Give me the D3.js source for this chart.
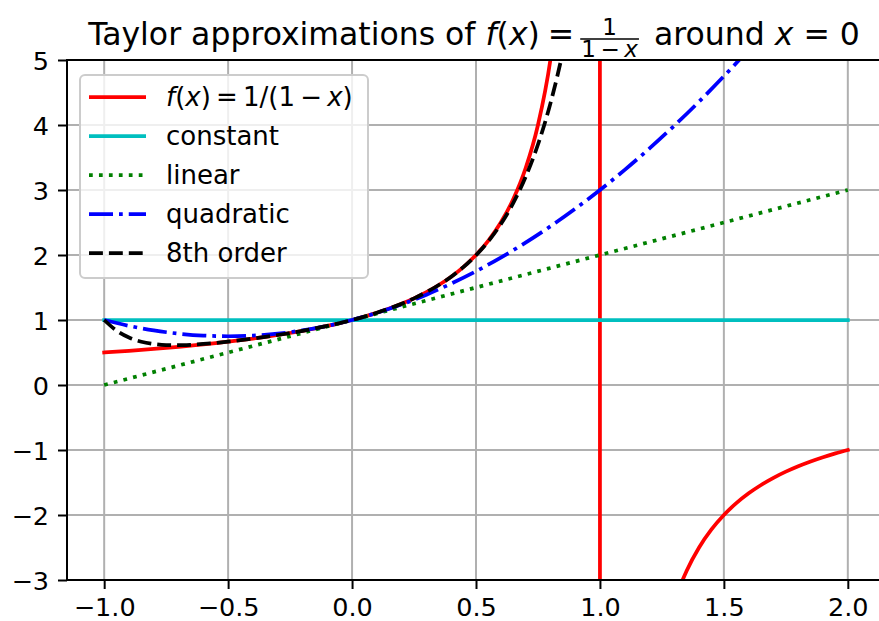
<!DOCTYPE html>
<html>
<head>
<meta charset="utf-8">
<script src="https://cdn.jsdelivr.net/npm/d3@7"></script>
<style>
	body { margin: 0; background: #fff; }
	svg { display: block; font-family: "DejaVu Sans", sans-serif; }
	text { white-space: pre; }
</style>
</head>
<body>
<script>
// values
const fX = [-1.00, -0.95, -0.90, -0.85, -0.80, -0.75, -0.70, -0.65, -0.60, -0.55, -0.50, -0.45, -0.40, -0.35, -0.30, -0.25, -0.20, -0.15, -0.10, -0.05,
	0.00, 0.05, 0.10, 0.15, 0.20, 0.25, 0.30, 0.35, 0.40, 0.45, 0.50, 0.55, 0.60, 0.65, 0.70, 0.75, 0.80, 0.85, 0.90, 0.95, 0.995,
	1.005, 1.05, 1.10, 1.15, 1.20, 1.25, 1.30, 1.35, 1.40, 1.45, 1.50, 1.55, 1.60, 1.65, 1.70, 1.75, 1.80, 1.85, 1.90, 1.95, 2.00];
const fY = [0.5, 0.5128, 0.5263, 0.5405, 0.5556, 0.5714, 0.5882, 0.6061, 0.625, 0.6452, 0.6667, 0.6897, 0.7143, 0.7407, 0.7692, 0.8, 0.8333, 0.8696, 0.9091, 0.9524,
	1, 1.0526, 1.1111, 1.1765, 1.25, 1.3333, 1.4286, 1.5385, 1.6667, 1.8182, 2, 2.2222, 2.5, 2.8571, 3.3333, 4, 5, 6.6667, 10, 20, 200,
	-200, -20, -10, -6.6667, -5, -4, -3.3333, -2.8571, -2.5, -2.2222, -2, -1.8182, -1.6667, -1.5385, -1.4286, -1.3333, -1.25, -1.1765, -1.1111, -1.0526, -1];

const constX = [-1, 2];
const constY = [1, 1];

const linX = [-1, 2];
const linY = [0, 3];

const quadX = [-1.0, -0.9, -0.8, -0.7, -0.6, -0.5, -0.4, -0.3, -0.2, -0.1, 0.0, 0.1, 0.2, 0.3, 0.4, 0.5,
	0.6, 0.7, 0.8, 0.9, 1.0, 1.1, 1.2, 1.3, 1.4, 1.5, 1.6, 1.7, 1.8, 1.9, 2.0];
const quadY = [1, 0.91, 0.84, 0.79, 0.76, 0.75, 0.76, 0.79, 0.84, 0.91, 1, 1.11, 1.24, 1.39, 1.56, 1.75,
	1.96, 2.19, 2.44, 2.71, 3, 3.31, 3.64, 3.99, 4.36, 4.75, 5.16, 5.59, 6.04, 6.51, 7];

const t8X = [-1.00, -0.95, -0.90, -0.85, -0.80, -0.75, -0.70, -0.65, -0.60, -0.55, -0.50, -0.45, -0.40, -0.35, -0.30, -0.25, -0.20, -0.15, -0.10, -0.05,
	0.00, 0.05, 0.10, 0.15, 0.20, 0.25, 0.30, 0.35, 0.40, 0.45, 0.50, 0.55, 0.60, 0.65, 0.70, 0.75, 0.80, 0.85, 0.90, 0.95, 1.00, 1.10];
const t8Y = [1, 0.836, 0.7302, 0.6657, 0.6301, 0.6143, 0.612, 0.6186, 0.6313, 0.6481, 0.668, 0.6902, 0.7145, 0.7408, 0.7693, 0.8, 0.8333, 0.8696, 0.9091, 0.9524,
	1, 1.0526, 1.1111, 1.1765, 1.25, 1.3333, 1.4285, 1.5383, 1.6662, 1.8168, 1.9961, 2.212, 2.4748, 2.798, 3.1988, 3.6997, 4.3289, 5.1225, 6.1258, 7.395, 9, 13.579];

const xTicks = [-1, -0.5, 0, 0.5, 1, 1.5, 2];
const yTicks = [-3, -2, -1, 0, 1, 2, 3, 4, 5];

const series = [
	{ x: fX, y: fY, color: '#ff0000', dash: null },
	{ x: constX, y: constY, color: '#00bfbf', dash: null },
	{ x: linX, y: linY, color: '#008000', dash: '3.75,6.2' },
	{ x: quadX, y: quadY, color: '#0000ff', dash: '24,6,3.75,6' },
	{ x: t8X, y: t8Y, color: '#000000', dash: '13.9,6' }
];
const legendLabels = ['f(x)', 'constant', 'linear', 'quadratic', '8th order'];

const W = 879, H = 621;
const mLeft = 67, mRight = 885, mTop = 60, mBottom = 580;
const lw = 3.75;

const svg = d3.select('body').append('svg')
	.attr('width', W)
	.attr('height', H);

const x = d3.scaleLinear().domain([-1.15, 2.15]).range([mLeft, mRight]);
const y = d3.scaleLinear().domain([-3, 5]).range([mBottom, mTop]);

svg.append('clipPath').attr('id', 'clip')
	.append('rect')
	.attr('x', mLeft).attr('y', mTop)
	.attr('width', mRight - mLeft).attr('height', mBottom - mTop);

// grid
const grid = svg.append('g');
grid.selectAll('.gx').data(xTicks).enter().append('line')
	.attr('x1', d => x(d)).attr('x2', d => x(d))
	.attr('y1', mTop).attr('y2', mBottom)
	.attr('stroke', '#b0b0b0').attr('stroke-width', 2);
grid.selectAll('.gy').data(yTicks).enter().append('line')
	.attr('x1', mLeft).attr('x2', mRight)
	.attr('y1', d => y(d)).attr('y2', d => y(d))
	.attr('stroke', '#b0b0b0').attr('stroke-width', 2);

// curves
const plot = svg.append('g').attr('clip-path', 'url(#clip)');
series.forEach(function (s) {
	const pts = s.x.map((v, i) => [v, s.y[i]]);
	const line = d3.line()
		.x(d => x(d[0]))
		.y(d => y(d[1]))
		.curve(d3.curveMonotoneX);
	plot.append('path')
		.attr('d', line(pts))
		.attr('fill', 'none')
		.attr('stroke', s.color)
		.attr('stroke-width', lw)
		.attr('stroke-dasharray', s.dash)
		.attr('stroke-linecap', s.dash ? 'butt' : 'square')
		.attr('stroke-linejoin', 'round');
});

// axes
const fmtX = d => d3.format('.1f')(d).replace('-', '\u2212');
const fmtY = d => String(d).replace('-', '\u2212');

const xAxis = svg.append('g')
	.attr('transform', `translate(0,${mBottom})`)
	.call(d3.axisBottom(x).tickValues(xTicks).tickFormat(fmtX).tickSize(9).tickPadding(8));
const yAxis = svg.append('g')
	.attr('transform', `translate(${mLeft},0)`)
	.call(d3.axisLeft(y).tickValues(yTicks).tickFormat(fmtY).tickSize(9).tickPadding(9));

[xAxis, yAxis].forEach(function (a) {
	a.select('.domain').remove();
	a.selectAll('.tick line').attr('stroke', '#000').attr('stroke-width', 2);
	a.selectAll('.tick text')
		.attr('fill', '#000')
		.style('font-family', '"DejaVu Sans", sans-serif')
		.style('font-size', '25.5px');
});
yAxis.selectAll('.tick text').attr('dy', '0.36em');
xAxis.selectAll('.tick text').attr('dy', '0.74em');

// spines (right spine is outside the picture)
svg.append('line').attr('x1', mLeft).attr('x2', mLeft).attr('y1', mTop - 1).attr('y2', mBottom + 1)
	.attr('stroke', '#000').attr('stroke-width', 2);
svg.append('line').attr('x1', mLeft - 1).attr('x2', mRight).attr('y1', mBottom).attr('y2', mBottom)
	.attr('stroke', '#000').attr('stroke-width', 2);
svg.append('line').attr('x1', mLeft - 1).attr('x2', mRight).attr('y1', mTop).attr('y2', mTop)
	.attr('stroke', '#000').attr('stroke-width', 2);

// legend
const lg = svg.append('g');
lg.append('rect')
	.attr('x', 80).attr('y', 75)
	.attr('width', 288).attr('height', 203)
	.attr('rx', 5)
	.attr('fill', '#fff').attr('fill-opacity', 0.8)
	.attr('stroke', '#cccccc').attr('stroke-width', 2);

series.forEach(function (s, i) {
	const cy = 97 + i * 39;
	lg.append('line')
		.attr('x1', 89).attr('x2', 146)
		.attr('y1', cy).attr('y2', cy)
		.attr('stroke', s.color)
		.attr('stroke-width', lw)
		.attr('stroke-dasharray', s.dash);
	const t = lg.append('text')
		.attr('x', 166).attr('y', cy + 9)
		.style('font-size', '26px');
	if (i === 0) {
		t.append('tspan').style('font-style', 'italic').text('f');
		t.append('tspan').text('(');
		t.append('tspan').style('font-style', 'italic').text('x');
		t.append('tspan').text(')\u2009=\u20091/(1\u2009\u2212\u2009');
		t.append('tspan').style('font-style', 'italic').text('x');
		t.append('tspan').text(')');
	} else {
		t.text(legendLabels[i]);
	}
});

// title with a fraction
const tg = svg.append('g');
const base = 45;
const t1 = tg.append('text').attr('y', base).style('font-size', '31.5px');
t1.append('tspan').text('Taylor approximations of ');
t1.append('tspan').style('font-style', 'italic').text('f');
t1.append('tspan').text('(');
t1.append('tspan').style('font-style', 'italic').text('x');
t1.append('tspan').text(')');
const w1 = t1.node().getComputedTextLength();

const eq = tg.append('text').attr('y', base).style('font-size', '31.5px').text('=');
const we = eq.node().getComputedTextLength();

const den = tg.append('text').attr('y', 57).style('font-size', '23px').attr('text-anchor', 'middle');
den.append('tspan').text('1\u2009\u2212\u2009');
den.append('tspan').style('font-style', 'italic').text('x');
const wd = den.node().getComputedTextLength() + 2;
const num = tg.append('text').attr('y', 35).style('font-size', '23px').attr('text-anchor', 'middle').text('1');

const t2 = tg.append('text').attr('y', base).style('font-size', '31.5px');
t2.append('tspan').text('around ');
t2.append('tspan').style('font-style', 'italic').text('x');
t2.append('tspan').text(' = 0');
const w2 = t2.node().getComputedTextLength();

const g1 = 8, g2 = 6, g3 = 15;
const total = w1 + g1 + we + g2 + wd + g3 + w2;
const x0 = 474 - total / 2;
t1.attr('x', x0);
eq.attr('x', x0 + w1 + g1);
const fc = x0 + w1 + g1 + we + g2 + wd / 2;
num.attr('x', fc);
den.attr('x', fc);
tg.append('line')
	.attr('x1', fc - wd / 2).attr('x2', fc + wd / 2)
	.attr('y1', 39).attr('y2', 39)
	.attr('stroke', '#000').attr('stroke-width', 1.5);
t2.attr('x', fc + wd / 2 + g3);
</script>
</body>
</html>
